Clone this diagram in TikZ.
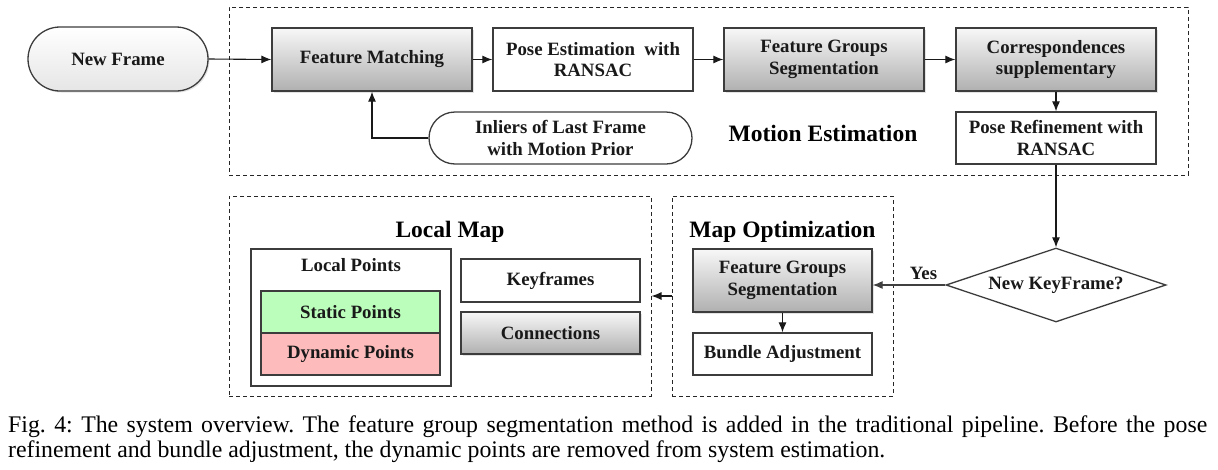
\documentclass[tikz,border=0pt]{standalone}
\usepackage{fontspec}
\setmainfont{Liberation Serif}
\usetikzlibrary{shapes.geometric,arrows.meta,shadows,calc}
\definecolor{edge}{HTML}{3C3C3C}
\definecolor{staticg}{HTML}{BBFDBB}
\definecolor{dynp}{HTML}{FDBBBB}
\frenchspacing
\begin{document}
\begin{tikzpicture}[x=1pt,y=-1pt,
  lbl/.style={font=\fontsize{18.8}{21.5}\selectfont\bfseries, align=center, text=black!90},
  plain/.style={lbl, draw=edge, line width=1.3pt, fill=white, inner sep=2pt},
  shd/.style={drop shadow={shadow xshift=1.5pt, shadow yshift=-1.5pt, opacity=0.22}},
  grad/.style={plain, top color=gray!6, bottom color=gray!62, shd},
  ttl/.style={font=\fontsize{23.5}{26}\selectfont\bfseries, inner sep=0pt},
  dbox/.style={draw=black!85, dash pattern=on 4pt off 3pt, line width=1pt, inner sep=0pt},
  arr/.style={-{Latex[length=10pt,width=8pt]}, line width=1.1pt, draw=black!90},
  captxt/.style={font=\fontsize{23.8}{26}\selectfont, inner sep=0pt, anchor=base west}
]
\useasboundingbox (0,0) rectangle (1218,469);

% dashed group boxes
\node[dbox, minimum width=959pt, minimum height=168pt] (ME) at (708.5,91) {};
\node[dbox, minimum width=422pt, minimum height=200pt] (LM) at (440,296) {};
\node[dbox, minimum width=221pt, minimum height=200pt] (MO) at (782.5,296) {};

% top row
\node[plain, rounded corners=32pt, top color=white, bottom color=gray!20, shd,
      minimum width=180pt, minimum height=64pt] (NF) at (118,59) {New Frame};
\node[grad, minimum width=200pt, minimum height=63pt] (FM) at (372,59.5) {Feature Matching};
\node[plain, minimum width=200pt, minimum height=63pt] (PE) at (593,59.5) {Pose Estimation\ \ with\\RANSAC};
\node[grad, minimum width=200pt, minimum height=63pt] (FG) at (824,59.5) {Feature Groups\\Segmentation};
\node[grad, minimum width=200pt, minimum height=63pt] (CS) at (1056,59.5) {Correspondences\\supplementary};
\node[plain, minimum width=200pt, minimum height=52pt] (PR) at (1056,138) {Pose Refinement with\\RANSAC};
\node[plain, rounded corners=26pt, minimum width=263pt, minimum height=52pt] (IN) at (560.5,138) {Inliers of Last Frame\\with Motion Prior};
\node[ttl] (MEt) at (823,133) {Motion Estimation};

% decision
\node[lbl, draw=edge, line width=1.3pt, fill=white, diamond, aspect=3, inner sep=0pt,
      minimum width=220pt, minimum height=74pt] (KFD) at (1056,285) {New KeyFrame?};

% map optimization
\node[ttl] (MOt) at (782.5,232) {Map Optimization};
\node[grad, minimum width=179pt, minimum height=63pt] (FG2) at (782.5,280.5) {Feature Groups\\Segmentation};
\node[plain, minimum width=179pt, minimum height=42pt] (BA) at (782.5,354) {Bundle Adjustment};

% local map
\node[ttl] (LMt) at (450,232) {Local Map};
\node[draw=edge, line width=1.3pt, fill=white, minimum width=200pt, minimum height=137pt, inner sep=0pt] (LP) at (351,317.5) {};
\node[lbl] (LPt) at (351,265) {Local Points};
\node[plain, fill=staticg, minimum width=179pt, minimum height=42pt] (SP) at (350.5,312) {Static Points};
\node[plain, fill=dynp, minimum width=179pt, minimum height=42pt] (DP) at (350.5,354) {Dynamic Points};
\node[plain, minimum width=179pt, minimum height=43pt] (KFs) at (550.5,280.5) {Keyframes};
\node[grad, minimum width=179pt, minimum height=42pt] (CN) at (550.5,333) {Connections};

% connectors
\draw[arr] (NF.east) -- (FM.west);
\draw[arr] (FM.east) -- (PE.west);
\draw[arr] (PE.east) -- (FG.west);
\draw[arr] (FG.east) -- (CS.west);
\draw[arr] (CS.south) -- (PR.north);
\draw[arr] (IN.west) -| (FM.south);
\draw[arr] (PR.south) -- (KFD.north);
\draw[arr, draw=black!75] (KFD.west) -- node[lbl, above, pos=0.3, yshift=3pt, inner sep=2pt] (yes) {Yes} (FG2.east |- KFD.west);
\draw[arr] (FG2.south) -- (BA.north);
\draw[arr] (MO.west) -- (LM.east);

% caption
\node[captxt] (c1) at (8,432) {\makebox[1199pt][s]{Fig. 4: The system overview. The feature group segmentation method is added in the traditional pipeline. Before the pose}};
\node[captxt] (c2) at (8,457) {refinement and bundle adjustment, the dynamic points are removed from system estimation.};
\end{tikzpicture}
\end{document}
